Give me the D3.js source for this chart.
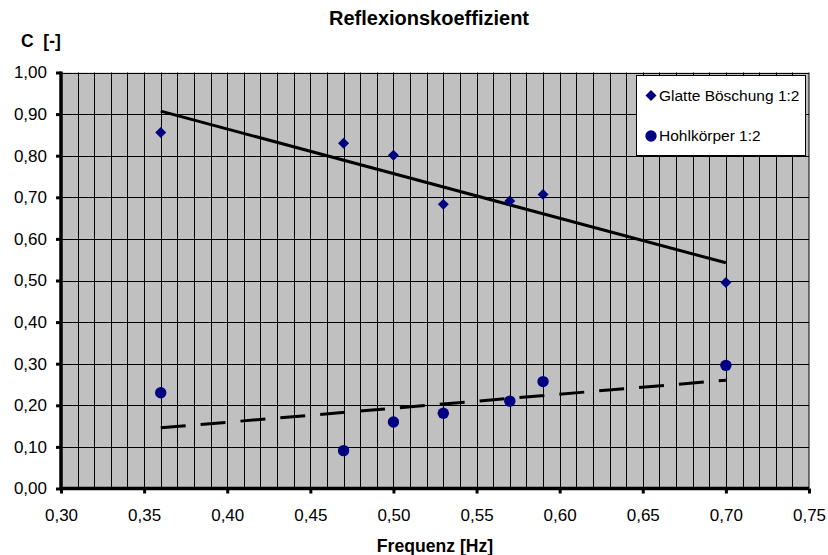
<!DOCTYPE html>
<html>
<head>
<meta charset="utf-8">
<script src="https://cdn.jsdelivr.net/npm/d3@7"></script>
<style>
  html, body { margin: 0; padding: 0; background: #ffffff; }
  svg { display: block; font-family: "Liberation Sans", Arial, sans-serif; }
</style>
</head>
<body>
<svg id="chart" width="828" height="555"></svg>
<script>
// ---- data ----
const frequencies = [0.36, 0.47, 0.50, 0.53, 0.57, 0.59, 0.70];
const glatteValues = [0.856, 0.830, 0.801, 0.683, 0.691, 0.707, 0.495];
const hohlValues = [0.230, 0.091, 0.160, 0.181, 0.210, 0.257, 0.296];
const seriesNames = ["Glatte Böschung 1:2", "Hohlkörper 1:2"];
const xTicks = [0.30, 0.35, 0.40, 0.45, 0.50, 0.55, 0.60, 0.65, 0.70, 0.75];
const yTicks = [0.0, 0.1, 0.2, 0.3, 0.4, 0.5, 0.6, 0.7, 0.8, 0.9, 1.0];
const titleText = "Reflexionskoeffizient";
const xTitle = "Frequenz [Hz]";
const yTitle = "C  [-]";

// linear least-squares trendline (as the spreadsheet draws it)
function trend(xs, ys) {
  const n = xs.length;
  const mx = d3.mean(xs), my = d3.mean(ys);
  let sxy = 0, sxx = 0;
  for (let i = 0; i < n; i++) { sxy += (xs[i]-mx)*(ys[i]-my); sxx += (xs[i]-mx)**2; }
  const b = sxy / sxx, a = my - b * mx;
  const x0 = d3.min(xs), x1 = d3.max(xs);
  return [[x0, a + b*x0], [x1, a + b*x1]];
}

const svg = d3.select("#chart");
const L = 61, R = 809, T = 72.5, B = 488.5;
const x = d3.scaleLinear().domain([0.30, 0.75]).range([L, R]);
const y = d3.scaleLinear().domain([0, 1]).range([B, T]);
const fmt = d => d3.format(".2f")(d).replace(".", ",");
const navy = "#000080";
const FONT = "'Liberation Sans', Arial, sans-serif";

// plot background
svg.append("rect").attr("x", L).attr("y", T).attr("width", R - L).attr("height", B - T)
  .attr("fill", "#c0c0c0");

// vertical minor gridlines every 0.01
const vGrid = d3.range(31, 75).map(i => i / 100);
svg.append("g").selectAll("line").data(vGrid).join("line")
  .attr("x1", d => Math.round(x(d)) + 0.5).attr("x2", d => Math.round(x(d)) + 0.5)
  .attr("y1", T).attr("y2", B)
  .attr("stroke", "#000").attr("stroke-width", 1);
// horizontal gridlines
svg.append("g").selectAll("line").data(yTicks.slice(1)).join("line")
  .attr("x1", L).attr("x2", R)
  .attr("y1", d => Math.round(y(d)) + 0.5).attr("y2", d => Math.round(y(d)) + 0.5)
  .attr("stroke", "#000").attr("stroke-width", 1);
// right border of plot
svg.append("line").attr("x1", R).attr("x2", R).attr("y1", T).attr("y2", B)
  .attr("stroke", "#000").attr("stroke-width", 1);

// axes
const xAxis = d3.axisBottom(x).tickValues(xTicks).tickFormat(fmt).tickSize(5).tickPadding(17);
const yAxis = d3.axisLeft(y).tickValues(yTicks).tickFormat(fmt).tickSize(5).tickPadding(9);
const gx = svg.append("g").attr("transform", `translate(0,${B})`).call(xAxis);
const gy = svg.append("g").attr("transform", `translate(${L},0)`).call(yAxis);
[gx, gy].forEach(g => {
  g.select(".domain").attr("stroke", "#000").attr("stroke-width", 3.5);
  g.selectAll(".tick line").attr("stroke", "#000").attr("stroke-width", 3);
  g.selectAll(".tick text").attr("fill", "#000").attr("font-size", 17)
    .attr("font-family", FONT);
});
gx.select(".domain").attr("d", `M${L},0H${R}`);
gy.select(".domain").attr("d", `M0,${T - 1}V${B + 1}`);
gx.selectAll(".tick text").attr("dy", "0.35em").attr("y", 27);

// trendlines
const line = d3.line().x(d => x(d[0])).y(d => y(d[1]));
svg.append("path").datum(trend(frequencies, glatteValues)).attr("d", line)
  .attr("stroke", "#000").attr("stroke-width", 3).attr("fill", "none");
svg.append("path").datum(trend(frequencies, hohlValues)).attr("d", line)
  .attr("stroke", "#000").attr("stroke-width", 3).attr("fill", "none")
  .attr("stroke-dasharray", "25,15");

// markers
const diamondPath = d3.symbol().type(d3.symbolSquare).size(60)();
svg.append("g").selectAll("path").data(frequencies.map((f, i) => [f, glatteValues[i]])).join("path")
  .attr("d", diamondPath)
  .attr("transform", d => `translate(${x(d[0])},${y(d[1])}) rotate(45)`)
  .attr("fill", navy);
svg.append("g").selectAll("circle").data(frequencies.map((f, i) => [f, hohlValues[i]])).join("circle")
  .attr("cx", d => x(d[0])).attr("cy", d => y(d[1])).attr("r", 5.7)
  .attr("fill", navy);

// legend
const lg = svg.append("g");
lg.append("rect").attr("x", 636.5).attr("y", 75.5).attr("width", 169).attr("height", 80)
  .attr("fill", "#fff").attr("stroke", "#000").attr("stroke-width", 1);
lg.append("path").attr("d", diamondPath)
  .attr("transform", "translate(651,95.5) rotate(45)").attr("fill", navy);
lg.append("circle").attr("cx", 651).attr("cy", 136).attr("r", 5.7).attr("fill", navy);
lg.selectAll("text").data(seriesNames).join("text")
  .attr("x", 659).attr("y", (d, i) => i === 0 ? 95.5 : 136)
  .attr("dy", "0.35em").attr("font-size", 15.5).attr("fill", "#000")
  .text(d => d);

// titles
svg.append("text").attr("x", 429).attr("y", 18).attr("dy", "0.35em")
  .attr("text-anchor", "middle").attr("font-weight", "bold").attr("font-size", 20)
  .text(titleText);
svg.append("text").attr("x", 435).attr("y", 546).attr("dy", "0.35em")
  .attr("text-anchor", "middle").attr("font-weight", "bold").attr("font-size", 17.6)
  .text(xTitle);
svg.append("text").attr("x", 21).attr("y", 41).attr("dy", "0.35em")
  .attr("font-weight", "bold").attr("font-size", 17.5)
  .style("white-space", "pre")
  .text(yTitle);
</script>
</body>
</html>
